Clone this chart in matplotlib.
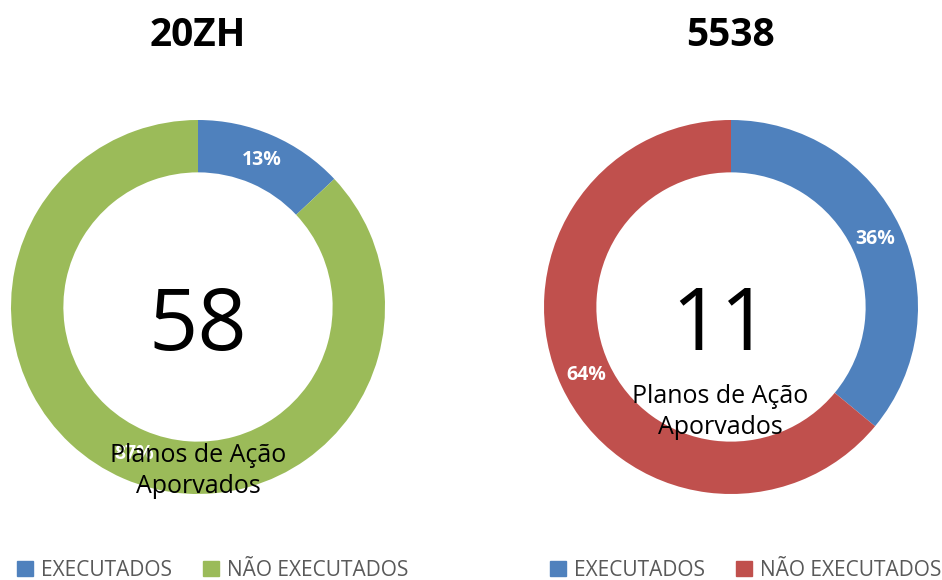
import matplotlib.pyplot as plt
from matplotlib.patches import Patch

categories = ["EXECUTADOS", "NÃO EXECUTADOS"]
titles = ["20ZH", "5538"]
totals = ["58", "11"]
shares_20zh = [13, 87]
shares_5538 = [36, 64]
colors_20zh = ["#4F81BD", "#9BBB59"]
colors_5538 = ["#4F81BD", "#C0504D"]

W, H = 942, 580
fig = plt.figure(figsize=(W / 100, H / 100), dpi=100)
plt.rcParams["font.family"] = ["Open Sans", "DejaVu Sans"]

R = 187


def donut(cx, cy, shares, colors, title, total, num_x, sub_x, sub_y, leg_x):
    ax = fig.add_axes([(cx - R) / W, (H - cy - R) / H, 2 * R / W, 2 * R / H])
    wedges, texts, autotexts = ax.pie(
        shares, colors=colors, startangle=90, counterclock=False,
        autopct="%d%%", pctdistance=0.855,
        wedgeprops=dict(width=0.28, edgecolor="none"),
        textprops=dict(color="white", fontsize=14, fontweight="bold"))
    ax.set_xlim(-1, 1)
    ax.set_ylim(-1, 1)
    ax.set_aspect("auto")
    ax.axis("off")
    fig.text(cx / W, 1 - 35 / H, title, ha="center", va="center",
             fontsize=28, fontweight="bold")
    fig.text(num_x / W, 1 - 328 / H, total, ha="center", va="center",
             fontsize=62)
    fig.text(sub_x / W, 1 - sub_y / H, "Planos de Ação\nAporvados", ha="center",
             va="center", fontsize=18, linespacing=1.32)
    handles = [Patch(color=c) for c in colors]
    fig.legend(handles, categories, ncol=2, loc="center left",
               bbox_to_anchor=(leg_x / W, 1 - 570 / H), frameon=False,
               handlelength=0.75, handleheight=0.75, handletextpad=0.4,
               columnspacing=1.5, fontsize=15, labelcolor="#595959",
               borderaxespad=0, borderpad=0)


donut(198, 307, shares_20zh, colors_20zh, titles[0], totals[0], 198, 198, 471,
      17)
donut(731, 307, shares_5538, colors_5538, titles[1], totals[1], 720, 720, 412,
      550)

fig.savefig("out.png", dpi=100)
